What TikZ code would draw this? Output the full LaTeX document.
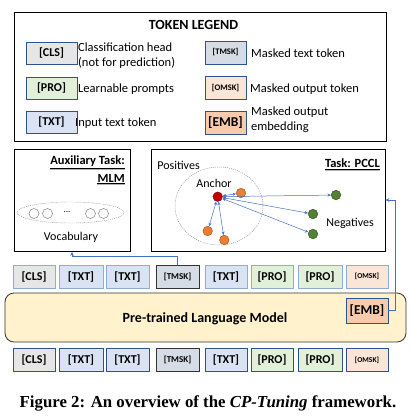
\documentclass[tikz,border=0pt]{standalone}
\usepackage{fontspec}
\setmainfont{Carlito}
\newfontfamily\capfont{Liberation Serif}
\usetikzlibrary{arrows.meta,calc,shapes.geometric}
\definecolor{cls}{HTML}{E7E6E6}
\definecolor{txt}{HTML}{DAE3F3}
\definecolor{pro}{HTML}{E2F0D9}
\definecolor{tmsk}{HTML}{D6DCE5}
\definecolor{omsk}{HTML}{FBE5D6}
\definecolor{emb}{HTML}{F8CBAD}
\definecolor{dkblue}{HTML}{2F528F}
\definecolor{ltborder}{HTML}{8FAADC}
\definecolor{plm}{HTML}{FFF2CC}
\definecolor{conn}{HTML}{4472C4}
\definecolor{anc}{HTML}{C00000}
\definecolor{org}{HTML}{ED7D31}
\definecolor{grn}{HTML}{548235}
\definecolor{dotc}{HTML}{8497B0}
\tikzset{
  tok/.style={draw=dkblue, line width=0.7pt, minimum height=23pt, inner sep=0pt, font=\fontsize{12}{12}\selectfont\bfseries},
  smalltok/.style={tok, font=\fontsize{8}{9}\selectfont\bfseries},
  toptok/.style={draw=ltborder},
  lgtok/.style={tok, minimum width=51pt, minimum height=22pt},
  lgtok2/.style={tok, minimum width=41pt, minimum height=23pt},
  lgtext/.style={anchor=west, inner sep=0pt, font=\fontsize{12.5}{13}\selectfont},
  frame/.style={draw=black, line width=0.8pt, inner sep=0pt},
  arr/.style={draw=conn, line width=0.5pt, {Stealth[length=3.5pt,width=3pt]}-{Stealth[length=3.5pt,width=3pt]}},
  conn/.style={draw=conn, line width=0.7pt, -{Stealth[length=4pt,width=3.5pt]}},
  dot/.style={circle, minimum size=9.5pt, inner sep=0pt, line width=0.5pt},
  vcirc/.style={circle, draw=gray, minimum size=10pt, inner sep=0pt, line width=0.5pt},
  lab/.style={inner sep=0pt, font=\fontsize{12}{13}\selectfont},
  blab/.style={inner sep=0pt, font=\fontsize{12.5}{13}\selectfont\bfseries},
}
\begin{document}
\begin{tikzpicture}[x=1pt,y=-1pt]
\useasboundingbox (0,0) rectangle (410,416);
% legend
\node[frame, minimum width=372pt, minimum height=129pt] (legend) at (200,76.5) {};
\node[blab, font=\fontsize{14}{15}\selectfont\bfseries] (lgtitle) at (193.5,25) {TOKEN LEGEND};
\node[lgtok, fill=cls] (lcls) at (51.5,53) {[CLS]};
\node[lgtok, fill=pro] (lpro) at (51.5,88.5) {[PRO]};
\node[lgtok, fill=txt] (ltxt) at (51.5,122.5) {[TXT]};
\node[lgtok2, fill=tmsk, font=\fontsize{8.5}{9}\selectfont\bfseries] (ltmsk) at (225.5,52.5) {[TMSK]};
\node[lgtok2, fill=omsk, font=\fontsize{8.5}{9}\selectfont\bfseries] (lomsk) at (225.5,88) {[OMSK]};
\node[lgtok2, fill=emb, font=\fontsize{13.5}{14}\selectfont\bfseries] (lemb) at (225.5,122.5) {[EMB]};
\node[lgtext] (tcls1) at (78,47.5) {Classification head};
\node[lgtext] (tcls2) at (78,62.5) {(not for prediction)};
\node[lgtext] (tpro) at (78,89) {Learnable prompts};
\node[lgtext] (ttxt) at (75,123) {Input text token};
\node[lgtext] (ttmsk) at (251,53) {Masked text token};
\node[lgtext] (tomsk) at (250,89) {Masked output token};
\node[lgtext] (temb1) at (251,112.5) {Masked output};
\node[lgtext] (temb2) at (251,127) {embedding};
% MLM box
\node[frame, minimum width=116pt, minimum height=102pt] (mlm) at (72,200.5) {};
\node[blab, anchor=east] (auxt) at (125,161) {Auxiliary Task:};
\node[blab, anchor=east] (mlmt) at (125,178) {MLM};
\draw[black, line width=0.6pt] ([yshift=-1.5pt]auxt.south west) -- ([yshift=-1.5pt]auxt.south east);
\draw[gray!60, line width=0.6pt] ([yshift=-2.5pt]auxt.south west) -- ([yshift=-2.5pt]auxt.south east);
\draw[black, line width=0.6pt] ([yshift=-1.5pt]mlmt.south west) -- ([yshift=-1.5pt]mlmt.south east);
\draw[gray!60, line width=0.6pt] ([yshift=-2.5pt]mlmt.south west) -- ([yshift=-2.5pt]mlmt.south east);
\node[ellipse, draw=gray, dash pattern=on 1pt off 1pt, minimum width=107pt, minimum height=21pt, inner sep=0pt] (vocab) at (70.5,212.5) {};
\node[vcirc] (v1) at (34,213.5) {};
\node[vcirc] (v2) at (47.5,213.5) {};
\node[lab, font=\fontsize{9}{9}\selectfont] (vdots) at (67,212) {...};
\node[vcirc] (v3) at (90.5,213.5) {};
\node[vcirc] (v4) at (103.5,213.5) {};
\node[lab] (vocabt) at (71,237.5) {Vocabulary};
% PCCL box
\node[frame, minimum width=234pt, minimum height=102pt] (pccl) at (268,200) {};
\node[blab, anchor=east] (pcclt) at (380,163) {Task: PCCL};
\draw[black, line width=0.6pt] ([yshift=-1.5pt]pcclt.south west) -- ([yshift=-1.5pt]pcclt.south east);
\draw[gray!60, line width=0.6pt] ([yshift=-2.5pt]pcclt.south west) -- ([yshift=-2.5pt]pcclt.south east);
\node[lab] (post) at (178.5,165) {Positives};
\node[ellipse, draw=dotc, dash pattern=on 1pt off 1pt, line width=0.5pt, minimum width=88pt, minimum height=78pt, inner sep=0pt] (poscirc) at (219,206) {};
\node[lab] (anct) at (214,183) {Anchor};
\node[lab] (negt) at (350,223) {Negatives};
\node[dot, fill=anc, draw=anc!70!black] (anchor) at (217.7,196.7) {};
\node[dot, fill=org, draw=org!70!black] (p1) at (241,193) {};
\node[dot, fill=org, draw=org!70!black] (p2) at (207.7,231) {};
\node[dot, fill=org, draw=org!70!black] (p3) at (224.3,240) {};
\node[dot, fill=grn, draw=grn!60!black] (n1) at (336,195) {};
\node[dot, fill=grn, draw=grn!60!black] (n2) at (313,214) {};
\node[dot, fill=grn, draw=grn!60!black] (n3) at (313,234) {};
\foreach \t in {p1,p2,p3,n1,n2,n3} {\draw[arr] (anchor) -- (\t);}
% top token row
\node[tok, toptok, fill=cls, minimum width=42pt] (a1) at (34,276.5) {[CLS]};
\node[tok, toptok, fill=txt, minimum width=44pt] (a2) at (81,276.5) {[TXT]};
\node[tok, toptok, fill=txt, minimum width=43pt] (a3) at (127.5,276.5) {[TXT]};
\node[smalltok, draw=black!80, fill=tmsk, minimum width=43pt, font=\fontsize{9}{9}\selectfont\bfseries] (a4) at (177.5,276.5) {[TMSK]};
\node[tok, toptok, fill=txt, minimum width=42pt] (a5) at (226,276.5) {[TXT]};
\node[tok, toptok, fill=pro, minimum width=42pt] (a6) at (272,276.5) {[PRO]};
\node[tok, toptok, fill=pro, minimum width=44pt] (a7) at (320,276.5) {[PRO]};
\node[smalltok, toptok, fill=omsk, minimum width=42pt, font=\fontsize{7.5}{8}\selectfont\bfseries] (a8) at (367,276.5) {[OMSK]};
% PLM
\node[draw=black!80, line width=0.8pt, fill=plm, rounded corners=9pt, minimum width=401pt, minimum height=49pt, inner sep=0pt] (plmbox) at (205.5,317.5) {};
\node[blab, font=\fontsize{14}{15}\selectfont\bfseries] (plmt) at (205,319) {Pre-trained Language Model};
\node[tok, fill=emb, minimum width=42pt, minimum height=25pt, font=\fontsize{13.5}{14}\selectfont\bfseries] (emb) at (367,310.5) {[EMB]};
% bottom token row
\node[tok, fill=cls, minimum width=42pt] (b1) at (34,360) {[CLS]};
\node[tok, fill=txt, minimum width=44pt] (b2) at (81,360) {[TXT]};
\node[tok, fill=txt, minimum width=43pt] (b3) at (127.5,360) {[TXT]};
\node[smalltok, draw=black!80, fill=tmsk, minimum width=43pt, font=\fontsize{9}{9}\selectfont\bfseries] (b4) at (177.5,360) {[TMSK]};
\node[tok, fill=txt, minimum width=42pt] (b5) at (226,360) {[TXT]};
\node[tok, fill=pro, minimum width=42pt] (b6) at (272,360) {[PRO]};
\node[tok, fill=pro, minimum width=44pt] (b7) at (320,360) {[PRO]};
\node[smalltok, fill=omsk, minimum width=42pt, font=\fontsize{7.5}{8}\selectfont\bfseries] (b8) at (367,360) {[OMSK]};
% connectors
\coordinate (c1) at (177.5,256.7);
\draw[conn] (a4.north) -- (c1) -| (mlm.south);
\coordinate (c2) at (395,310.5);
\draw[conn] (emb.east) -- (c2) |- (pccl.east);
% caption
\node[inner sep=0pt, font=\capfont\fontsize{16.8}{18}\selectfont\bfseries] (cap) at (208,403) {Figure 2: An overview of the \textit{CP-Tuning} framework.};
\end{tikzpicture}
\end{document}
